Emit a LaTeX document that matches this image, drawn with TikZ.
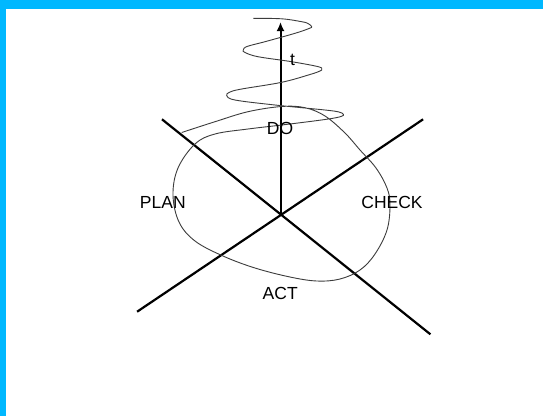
\documentclass[tikz,border=0pt]{standalone}
\usepackage{fontspec}
\setmainfont{Liberation Sans}
\usetikzlibrary{arrows.meta}
\definecolor{framecyan}{RGB}{0,184,255}
\definecolor{curvegray}{RGB}{60,60,60}
\begin{document}
\begin{tikzpicture}[x=1bp,y=-1bp,
  axisline/.style={line width=2.2bp,black},
  timeaxis/.style={line width=2bp,black,-{Latex[length=9bp,width=8bp]}},
  spiralline/.style={line width=0.9bp,curvegray},
  lbl/.style={inner sep=0pt,font=\fontsize{17.5bp}{20bp}\selectfont}]
\useasboundingbox (0,0) rectangle (543,416);
\fill[white] (0,0) rectangle (543,416);
\fill[framecyan] (0,0) rectangle (543,8.5);
\fill[framecyan] (0,0) rectangle (6,416);
% axes
\coordinate (o) at (280.5,215);
\coordinate (nw) at (162,119.3);
\coordinate (se) at (430.4,334.3);
\coordinate (sw) at (137.1,311.7);
\coordinate (ne) at (423.1,119.3);
\coordinate (top) at (280.5,22);
\draw[axisline] (nw) -- (se);
\draw[axisline] (sw) -- (ne);
\draw[timeaxis] (o) -- (top);
% spiral
\draw[spiralline] plot[smooth,tension=0.6] coordinates {
(181.7,132.5) (215,121.7) (248,111.7) (281.7,106.5) (305,107.7) (325,116)
(345,133) (360,150) (376,168) (387,188) (390,205) (387,230) (375,254)
(360,270) (340,279) (317,281) (290,277) (255,268) (223,256) (195,241)
(179,222) (173,195) (178,168) (195,144) (215,134) (248,129) (281.7,125)
(325,119.5) (341,116.5) (343.3,114.3) (339,112) (325,110) (275,105) (235,100)
(226.7,95.5) (230,92) (241.7,89) (281.7,82.3) (310,74.5) (320,71) (321.7,69.3)
(318.3,66.7) (291.7,61.7) (258,56.7) (245,52.5) (243.3,50) (247,46.5)
(265,41.7) (295,33.3) (309,28.5) (311.7,26.7) (308,23.5) (301.7,21.7) (281.7,18.8) (253.3,18.3)};
% labels
\node[lbl] (plan) at (162.8,202) {PLAN};
\node[lbl] (check) at (392,202) {CHECK};
\node[lbl] (do) at (280,128) {DO};
\node[lbl] (act) at (280.2,293.3) {ACT};
\node[lbl] (t) at (292.5,59.5) {t};
\end{tikzpicture}
\end{document}
